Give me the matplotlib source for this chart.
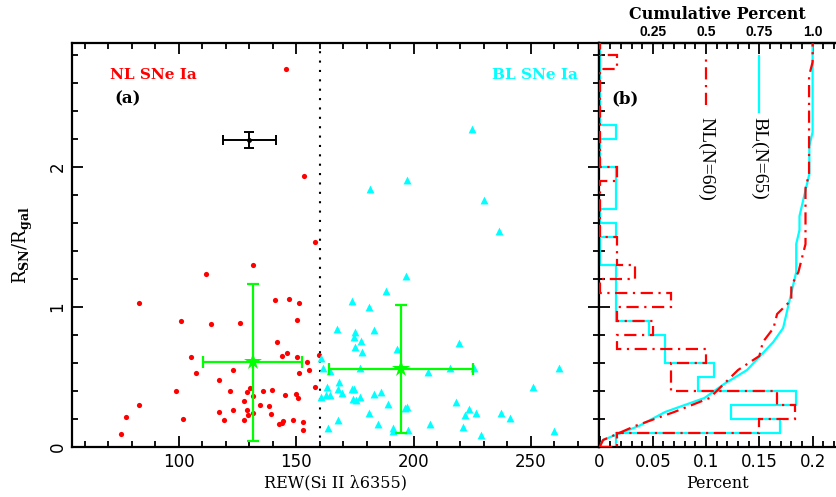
import numpy as np
import matplotlib
matplotlib.use("Agg")
import matplotlib.pyplot as plt
from matplotlib.ticker import MultipleLocator, FixedLocator

# ---------------- data ----------------
nl_rew = [158.0, 131.7, 111.4, 82.9, 140.8, 146.8, 151.3, 100.9, 113.7, 126.0,
          150.4, 141.9, 105.2, 143.8, 146.1, 150.2, 154.6, 159.6, 107.2, 122.9,
          151.0, 155.6, 117.1, 98.6, 121.6, 129.0, 130.3, 136.0, 139.8, 150.0,
          150.6, 158.1, 145.2, 82.9, 127.7, 131.4, 134.6, 138.4, 77.3, 101.7,
          117.0, 122.9, 129.0, 129.3, 131.7, 139.2, 119.3, 127.6, 142.7, 143.8,
          144.5, 148.7, 152.7, 153.0, 75.2, 145.5, 153.2]
nl_r = [1.466, 1.298, 1.238, 1.029, 1.048, 1.057, 1.029, 0.900, 0.879, 0.888,
        0.907, 0.752, 0.641, 0.650, 0.669, 0.641, 0.610, 0.657, 0.529, 0.550,
        0.529, 0.550, 0.479, 0.400, 0.398, 0.395, 0.419, 0.400, 0.410, 0.381,
        0.352, 0.431, 0.371, 0.302, 0.331, 0.362, 0.302, 0.290, 0.212, 0.202,
        0.252, 0.262, 0.262, 0.231, 0.243, 0.233, 0.193, 0.193, 0.162, 0.174,
        0.188, 0.193, 0.181, 0.121, 0.093, 2.702, 1.936]

bl_rew = [196.8, 188.2, 173.6, 181.1, 167.2, 175.2, 183.1, 174.6, 177.6, 219.2,
          175.2, 192.8, 178.0, 160.4, 161.5, 177.2, 206.3, 215.4, 225.9, 262.0,
          164.4, 163.0, 168.3, 173.6, 174.7, 167.8, 169.6, 160.4, 162.7, 164.5,
          177.2, 174.1, 175.5, 183.1, 186.0, 251.0, 189.2, 218.2, 223.7, 221.8,
          226.7, 237.2, 241.2, 196.2, 197.3, 181.1, 167.9, 184.7, 207.1, 220.9,
          163.4, 191.1, 191.4, 197.5, 228.7, 259.9, 181.6, 197.1, 225.0, 230.1,
          236.5]
bl_r = [1.221, 1.114, 1.045, 1.002, 0.843, 0.824, 0.836, 0.784, 0.755, 0.745,
        0.716, 0.698, 0.676, 0.638, 0.564, 0.564, 0.536, 0.564, 0.564, 0.564,
        0.541, 0.426, 0.464, 0.414, 0.414, 0.414, 0.386, 0.359, 0.371, 0.371,
        0.359, 0.341, 0.336, 0.376, 0.393, 0.426, 0.307, 0.324, 0.274, 0.226,
        0.245, 0.245, 0.205, 0.276, 0.286, 0.245, 0.195, 0.164, 0.164, 0.145,
        0.134, 0.134, 0.114, 0.121, 0.086, 0.114, 1.841, 1.909, 2.269, 1.762,
        1.543]

nl_mean = [131.5, 0.605]
nl_err = [21.0, 0.56]
bl_mean = [194.7, 0.557]
bl_err = [30.7, 0.459]
typ_pos = [130.0, 2.193]
typ_err = [11.3, 0.06]
rew_cut = 160

# histograms of R_SN/R_gal in bins of 0.1
bin_edges = np.round(np.arange(0, 2.95, 0.1), 2)
nl_counts = [1, 9, 11, 10, 4, 4, 6, 1, 3, 1, 4, 0, 2, 1, 1, 0, 0, 0, 0, 1,
             0, 0, 0, 0, 0, 0, 0, 1, 0]
bl_counts = [1, 11, 8, 12, 6, 7, 4, 4, 3, 1, 1, 1, 1, 0, 0, 1, 0, 1, 1, 1,
             0, 0, 1, 0, 0, 0, 0, 0, 0]

# ---------------- style ----------------
RED = "#ff0000"
CYAN = "#00ffff"
GREEN = "#00ff00"
TICKFONT = ["Liberation Sans Narrow", "DejaVu Sans"]
SERIF = ["Liberation Serif", "DejaVu Serif"]
LABELSERIF = ["DejaVu Serif"]
BOLDSERIF = ["DejaVu Serif"]
plt.rcParams["mathtext.fontset"] = "dejavuserif"
REDDASH = (0, (5.5, 2.5, 1, 2.5))

W, H = 837, 497
fig = plt.figure(figsize=(W / 100, H / 100), dpi=100)
x_split = 598.5
bottom = 1 - 447 / H
height = (447 - 43) / H
axL = fig.add_axes([72 / W, bottom, (x_split - 72) / W, height])
axR = fig.add_axes([x_split / W, bottom, (W - x_split) / W, height])

for ax in (axL, axR):
    for s in ax.spines.values():
        s.set_linewidth(1.6)
axR.spines["right"].set_visible(False)

# ---------------- left panel ----------------
axL.scatter(nl_rew, nl_r, s=14, color=RED, marker="o", linewidths=0, zorder=3)
axL.scatter(bl_rew, bl_r, s=32, color=CYAN, marker="^", linewidths=0, zorder=3)
axL.axvline(rew_cut, color="black", lw=1.5, linestyle=(0, (1, 3.5)), zorder=2)

for m, e in ((nl_mean, nl_err), (bl_mean, bl_err)):
    axL.errorbar(m[0], m[1], xerr=e[0], yerr=e[1], color=GREEN, lw=1.6,
                 capsize=4, capthick=1.6, fmt="none", zorder=4)
    axL.plot(m[0], m[1], marker="*", markersize=13, color=GREEN,
             markeredgewidth=0, zorder=5)
axL.errorbar(typ_pos[0], typ_pos[1], xerr=typ_err[0], yerr=typ_err[1],
             color="black", lw=1.4, capsize=3.5, capthick=1.4, fmt="none",
             zorder=4)
axL.plot(typ_pos[0], typ_pos[1], marker="o", markersize=2.5, color="black",
         zorder=5)

axL.set_xlim(54.5, 278.8)
axL.set_ylim(0, 2.886)
axL.xaxis.set_major_locator(FixedLocator([100, 150, 200, 250]))
axL.xaxis.set_minor_locator(MultipleLocator(10))
axL.yaxis.set_major_locator(FixedLocator([0, 1, 2]))
axL.yaxis.set_minor_locator(MultipleLocator(0.2))
axL.tick_params(which="both", direction="in", top=True, right=True,
                width=1.3)
axL.tick_params(which="major", length=8, pad=4)
axL.tick_params(which="minor", length=4.5)
axL.set_xticklabels(["100", "150", "200", "250"], family=TICKFONT, fontsize=12)
axL.set_yticklabels(["0", "1", "2"], family=TICKFONT, fontsize=12,
                    rotation=90, va="center")
axL.set_xlabel("REW(Si II λ6355)", family=LABELSERIF, fontsize=11.5,
               labelpad=3)
axL.set_ylabel(r"$\mathrm{R}_{\mathbf{SN}}/\mathrm{R}_{\mathbf{gal}}$",
               fontsize=13, labelpad=10)

axL.text(89, 2.66, "NL SNe Ia", color=RED, family=BOLDSERIF,
         fontweight="bold", fontsize=11, ha="center", va="center")
axL.text(78, 2.49, "(a)", color="black", family=BOLDSERIF,
         fontweight="bold", fontsize=12, ha="center", va="center")
axL.text(251.7, 2.66, "BL SNe Ia", color=CYAN, family=BOLDSERIF,
         fontweight="bold", fontsize=11, ha="center", va="center")

# ---------------- right panel ----------------
edges = np.asarray(bin_edges)
centers = (edges[:-1] + edges[1:]) / 2
nl_frac = np.asarray(nl_counts) / np.sum(nl_counts)
bl_frac = np.asarray(bl_counts) / np.sum(bl_counts)
cum_scale = 0.2  # cumulative 1.0 is drawn at percent 0.2

axR.stairs(bl_frac, edges, orientation="horizontal", baseline=0,
           color=CYAN, lw=1.6, zorder=2)
axR.stairs(nl_frac, edges, orientation="horizontal", baseline=0,
           color=RED, lw=1.6, linestyle=REDDASH, zorder=3)

for frac, col, ls, z in ((bl_frac, CYAN, "-", 2), (nl_frac, RED, REDDASH, 3)):
    cum = np.cumsum(frac)
    yy = np.concatenate([[0], centers, [edges[-1]]])
    xx = np.concatenate([[0], cum, [cum[-1]]]) * cum_scale
    axR.plot(xx, yy, color=col, lw=1.6, linestyle=ls, zorder=z)

axR.plot([0.1, 0.1], [2.44, 2.79], color=RED, lw=1.6, linestyle=REDDASH)
axR.plot([0.15, 0.15], [2.39, 2.79], color=CYAN, lw=1.6)
axR.text(0.1, 2.06, "NL(N=%d)" % np.sum(nl_counts), rotation=-90,
         family=SERIF, fontsize=14, ha="center", va="center")
axR.text(0.15, 2.06, "BL(N=%d)" % np.sum(bl_counts), rotation=-90,
         family=SERIF, fontsize=14, ha="center", va="center")
axR.text(0.024, 2.49, "(b)", color="black", family=BOLDSERIF,
         fontweight="bold", fontsize=12, ha="center", va="center")

axR.set_xlim(-0.001, (W - 599.5) / 1065.5)
axR.set_ylim(0, 2.886)
axR.xaxis.set_major_locator(FixedLocator([0, 0.05, 0.1, 0.15, 0.2]))
axR.xaxis.set_minor_locator(MultipleLocator(0.01))
axR.yaxis.set_major_locator(FixedLocator([0, 1, 2]))
axR.yaxis.set_minor_locator(MultipleLocator(0.2))
axR.tick_params(which="both", direction="in", top=False, right=False,
                labelleft=False, width=1.3)
axR.tick_params(which="major", length=8, pad=4)
axR.tick_params(which="minor", length=4.5)
axR.set_xticklabels(["0", "0.05", "0.1", "0.15", "0.2"], family=TICKFONT,
                    fontsize=12)
axR.set_xlabel("Percent", family=LABELSERIF, fontsize=11.5, labelpad=3)

sec = axR.secondary_xaxis("top", functions=(lambda x: x / cum_scale,
                                             lambda x: x * cum_scale))
sec.xaxis.set_major_locator(FixedLocator([0.25, 0.5, 0.75, 1.0]))
sec.xaxis.set_minor_locator(MultipleLocator(0.05))
sec.tick_params(which="both", direction="in", width=1.3)
sec.tick_params(which="major", length=8, pad=3)
sec.tick_params(which="minor", length=4.5)
sec.set_xticklabels(["0.25", "0.5", "0.75", "1.0"],
                    family=["Liberation Sans", "DejaVu Sans"],
                    fontweight="bold", fontsize=10)
sec.set_xlabel("Cumulative Percent", family=BOLDSERIF, fontweight="bold",
               fontsize=11.5, labelpad=4)
sec.spines["top"].set_linewidth(1.6)

fig.savefig("out.png", dpi=100)
